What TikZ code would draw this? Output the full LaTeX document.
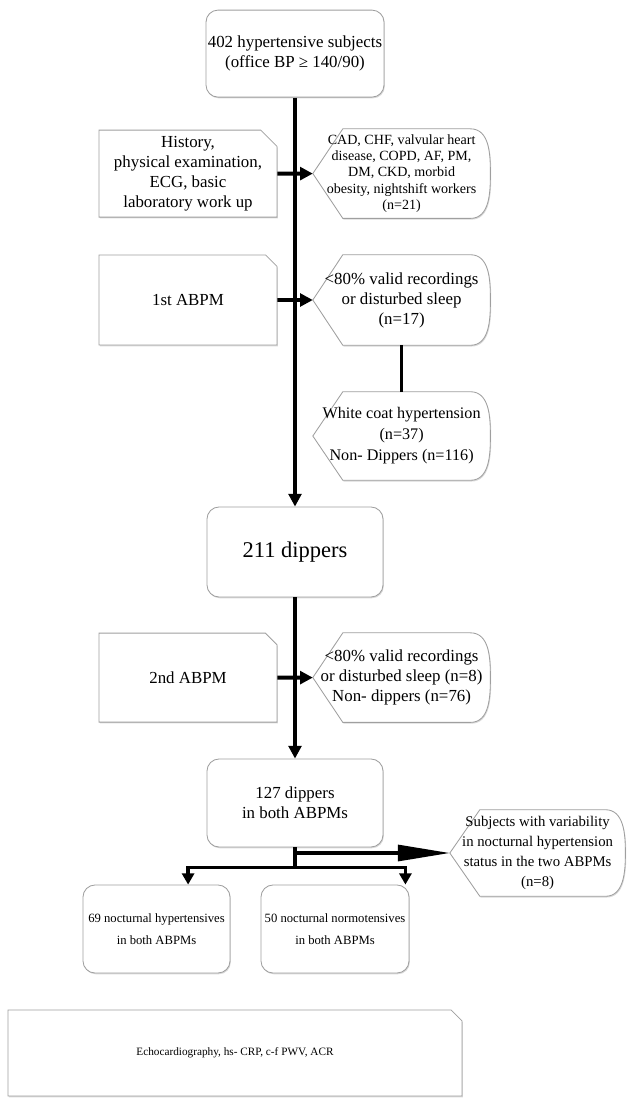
\documentclass[tikz,border=0pt]{standalone}
\usepackage{fontspec}
\setmainfont{Liberation Serif}
\usetikzlibrary{arrows.meta,shapes.misc,shadows}
\pgfdeclarelayer{bg}
\pgfsetlayers{bg,main}

% outline of the pointed/rounded exclusion boxes
\newcommand{\dispframe}[1]{%
  \begin{pgfonlayer}{bg}
    \draw[frame] (#1.west) -- ([xshift=0.75cm]#1.north west) -- ([xshift=-0.5cm]#1.north east)
      to[out=0,in=90] (#1.east) to[out=-90,in=0] ([xshift=-0.5cm]#1.south east)
      -- ([xshift=0.75cm]#1.south west) -- cycle;
  \end{pgfonlayer}}

\begin{document}
\begin{tikzpicture}[
    boxshadow/.style={drop shadow={shadow xshift=0.6pt, shadow yshift=-0.9pt, opacity=0.3}},
    box/.style={rectangle, rounded corners=0.3cm, draw=gray!75, line width=0.6pt, fill=white, align=center, inner sep=1pt, boxshadow},
    sidebox/.style={chamfered rectangle, chamfered rectangle corners=north east, chamfered rectangle xsep=0.3cm,
        draw=gray!75, line width=0.6pt, fill=white, align=center, inner sep=1pt, minimum width=4.45cm, boxshadow},
    dispnode/.style={align=center, inner sep=0pt, minimum width=4.425cm},
    frame/.style={draw=gray!75, line width=0.6pt, fill=white, boxshadow},
    flow/.style={line width=2.8pt, -{Triangle[length=0.32cm,width=0.32cm]}},
    link/.style={line width=1.6pt},
    bigarrow/.style={line width=2.2pt, -{Triangle[length=1.3cm,width=0.4cm]}},
    split/.style={line width=2.5pt, {Triangle[length=0.28cm,width=0.3cm]}-{Triangle[length=0.28cm,width=0.3cm]}},
    big/.style={font=\fontsize{16}{19}\selectfont},
    f12/.style={font=\fontsize{12}{14.2}\selectfont},
    f11/.style={font=\fontsize{11.5}{15}\selectfont},
    f10/.style={font=\fontsize{10}{11.7}\selectfont},
    f10b/.style={font=\fontsize{10.5}{14.4}\selectfont},
    f9/.style={font=\fontsize{9}{15.5}\selectfont},
    f8/.style={font=\fontsize{8}{10}\selectfont}]

    \useasboundingbox (0,0) rectangle (15.675,-27.45);

    \node[box, f12, minimum width=4.45cm, minimum height=2.175cm] (top) at (7.375,-1.34) {402 hypertensive subjects\\(office BP ≥ 140/90)};

    \node[sidebox, f12, minimum height=2.175cm] (hist) at (4.7,-4.34) {History,\\physical examination,\\ECG, basic\\laboratory work up};
    \node[dispnode, f10, minimum height=2.225cm] (excl1) at (10.04,-4.34) {CAD, CHF, valvular heart\\disease, COPD, AF, PM,\\DM, CKD, morbid\\obesity, nightshift workers\\(n=21)};
    \dispframe{excl1}

    \node[sidebox, f12, minimum height=2.25cm] (abpm1) at (4.7,-7.5) {1st ABPM};
    \node[dispnode, f12, minimum height=2.25cm] (excl2) at (10.04,-7.5) {<80\% valid recordings\\or disturbed sleep\\(n=17)};
    \dispframe{excl2}
    \node[dispnode, f11, minimum height=2.2cm] (wch) at (10.04,-10.9) {White coat hypertension\\(n=37)\\Non- Dippers (n=116)};
    \dispframe{wch}

    \node[box, big, minimum width=4.4cm, minimum height=2.25cm] (d211) at (7.375,-13.8) {211 dippers};

    \node[sidebox, f12, minimum height=2.225cm] (abpm2) at (4.7,-16.94) {2nd ABPM};
    \node[dispnode, f12, minimum height=2.225cm] (excl3) at (10.04,-16.94) {<80\% valid recordings\\or disturbed sleep (n=8)\\Non- dippers (n=76)};
    \dispframe{excl3}

    \node[box, f12, minimum width=4.4cm, minimum height=2.2cm] (d127) at (7.375,-20.075) {127 dippers\\in both ABPMs};
    \node[dispnode, f10b, minimum width=4.375cm, minimum height=2.15cm] (var) at (13.44,-21.325) {Subjects with variability\\in nocturnal hypertension\\status in the two ABPMs\\(n=8)};
    \dispframe{var}

    \node[box, f9, minimum width=3.675cm, minimum height=2.2cm] (noct69) at (3.9125,-23.225) {69 nocturnal hypertensives\\in both ABPMs};
    \node[box, f9, minimum width=3.7cm, minimum height=2.2cm] (noct50) at (8.375,-23.225) {50 nocturnal normotensives\\in both ABPMs};

    \node[sidebox, f8, minimum width=11.35cm, minimum height=2.15cm] (echo) at (5.875,-26.325) {Echocardiography, hs- CRP, c-f PWV, ACR};

    \draw[flow] (top) -- (d211);
    \draw[flow] (hist) -- (excl1.west);
    \draw[flow] (abpm1) -- (excl2.west);
    \draw[link] (excl2) -- (wch);
    \draw[flow] (d211) -- (d127);
    \draw[flow] (abpm2) -- (excl3.west);

    \coordinate (brk) at ([yshift=-0.5cm]d127.south);
    \coordinate (lt) at ([xshift=0.79cm]noct69.north);
    \coordinate (rt) at ([xshift=-0.1cm]noct50.north east);
    \draw[line width=2.8pt] (d127.south) -- (brk);
    \draw[bigarrow] (d127.south |- var.west) -- (var.west);
    \draw[split] (lt) -- (lt |- brk) -- (rt |- brk) -- (rt);

\end{tikzpicture}
\end{document}
